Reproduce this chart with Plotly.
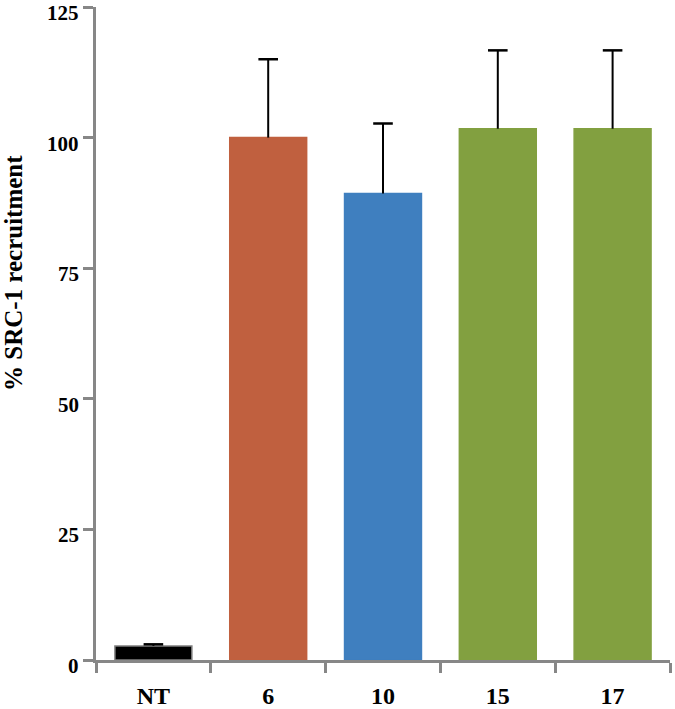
import plotly.graph_objects as go

categories = ["NT", "6", "10", "15", "17"]
values = [2.7, 100.0, 89.3, 101.7, 101.7]
errors = [0.3, 15.0, 13.4, 15.0, 15.0]
colors = ["#000000", "#C0603F", "#3F7FBF", "#82A040", "#82A040"]
outline = ["#7F7F7F", "#C0603F", "#3F7FBF", "#82A040", "#82A040"]
y_ticks = [0, 25, 50, 75, 100, 125]
y_tick_labels = ["0", "25", "50", "75", "100", "125"]
y_title = "% SRC-1 recruitment"

FONT = "Liberation Serif, Times New Roman, serif"

fig = go.Figure()
# bars with upward error stems (no caps; the cap is drawn at the top only)
fig.add_trace(go.Bar(
    x=categories,
    y=values,
    marker=dict(color=colors, line=dict(color=outline, width=1.5)),
    error_y=dict(type="data", array=errors, symmetric=False, arrayminus=[0]*len(errors),
                 color="#000000", thickness=2, width=0),
    showlegend=False,
    hoverinfo="skip",
))
# caps at the top of each error bar
error_tops = [v + e for v, e in zip(values, errors)]
fig.add_trace(go.Scatter(
    x=categories,
    y=error_tops,
    mode="markers",
    marker=dict(symbol="line-ew-open", size=14, color="#000000",
                line=dict(color="#000000", width=2.5)),
    showlegend=False,
    hoverinfo="skip",
))

# y tick labels sit a little below their tick marks in the reference
tick_annotations = [
    dict(text=lab, xref="paper", yref="y", x=0, y=v,
         xanchor="right", yanchor="middle", xshift=-15, yshift=-6,
         showarrow=False,
         font=dict(family=FONT, size=21, weight="bold", color="#000000"))
    for v, lab in zip(y_ticks, y_tick_labels)
]

fig.update_layout(
    width=675, height=709,
    margin=dict(l=96, r=5, t=7, b=49, autoexpand=False),
    paper_bgcolor="white", plot_bgcolor="white",
    bargap=0.33,
    font=dict(family=FONT, color="#000000"),
    xaxis=dict(
        type="category",
        range=[-0.5, 4.5],
        automargin=False,
        showline=True, linecolor="#878787", linewidth=2.5,
        ticks="outside", tickson="boundaries", ticklen=10, tickwidth=2.5, tickcolor="#878787",
        tickfont=dict(family=FONT, size=24, weight="bold"),
        ticklabelstandoff=12,
        ticklabeloverflow="allow",
        showgrid=False, zeroline=False,
    ),
    yaxis=dict(
        range=[0, 125],
        tickvals=y_ticks,
        showticklabels=False,
        automargin=False,
        showline=True, linecolor="#878787", linewidth=2.5,
        ticks="outside", ticklen=10, tickwidth=2.5, tickcolor="#878787",
        showgrid=False, zeroline=False,
    ),
    annotations=tick_annotations + [dict(
        text=y_title, textangle=-90,
        xref="paper", yref="paper",
        x=(13 - 96) / 574, y=(660 - 273) / 653,
        xanchor="center", yanchor="middle",
        showarrow=False,
        font=dict(family=FONT, size=25, weight="bold", color="#000000"),
    )],
)

# Remove the default 8px page margin so the figure fills the window exactly.
fig.write_html(
    "out.html",
    config={"displayModeBar": False},
    post_script="document.body.style.margin='0';document.body.style.overflow='hidden';",
)
